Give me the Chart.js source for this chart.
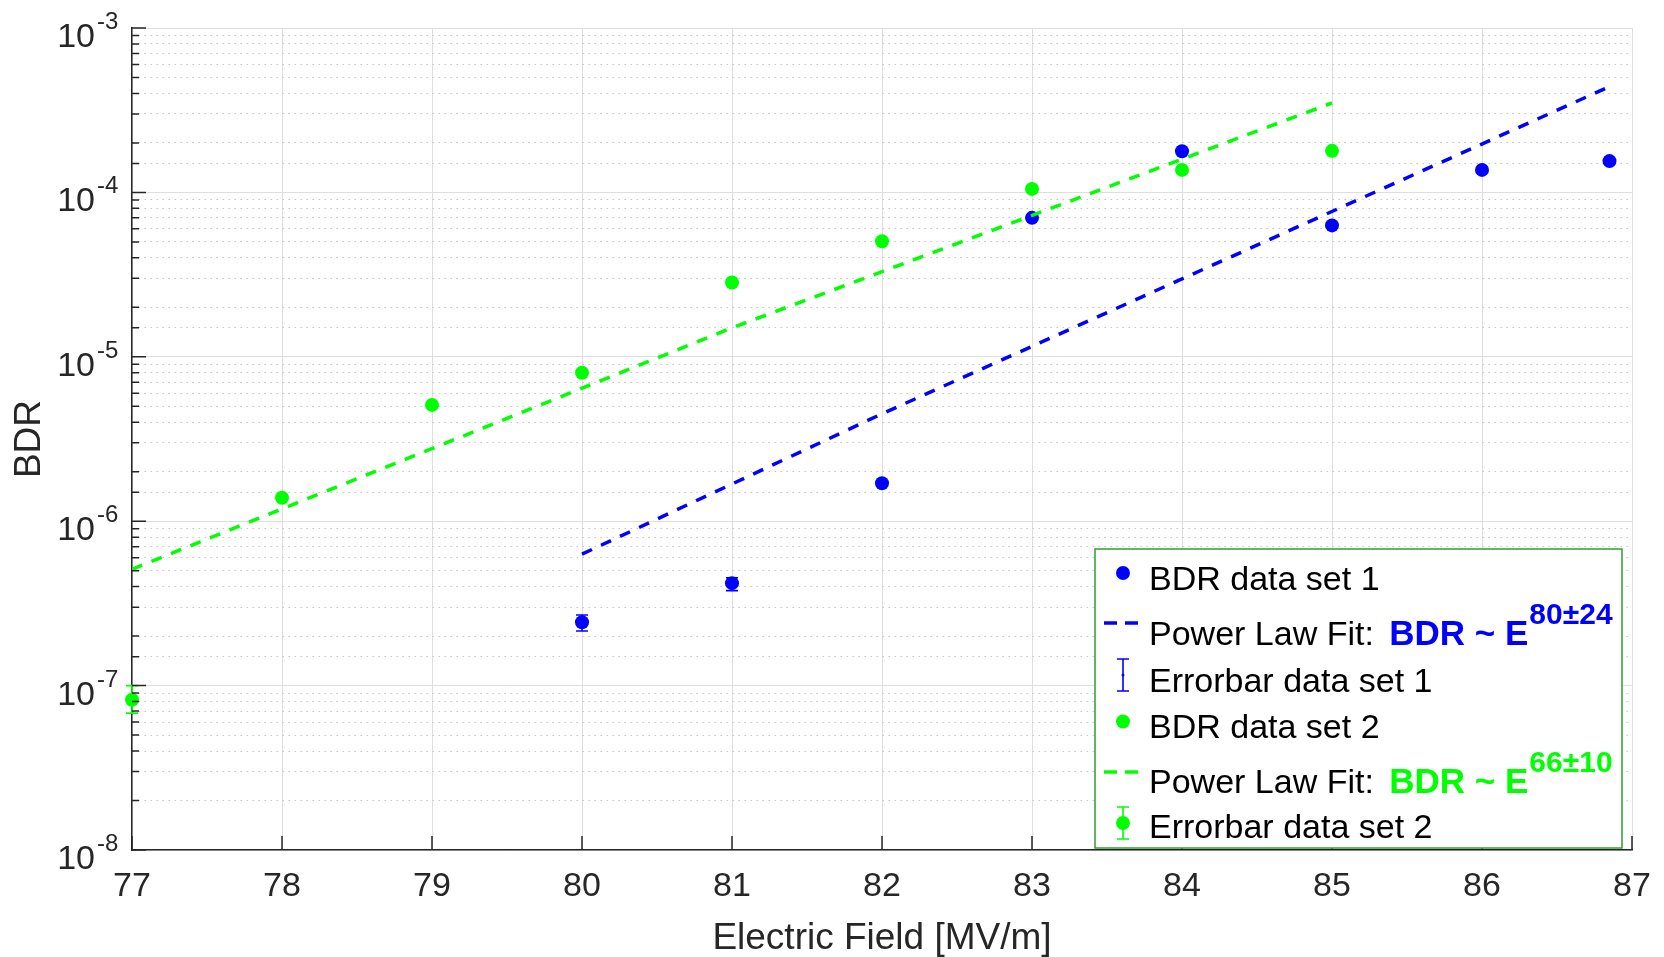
<!DOCTYPE html>
<html>
<head>
<meta charset="utf-8">
<script src="https://cdn.jsdelivr.net/npm/chart.js@4.4.1/dist/chart.umd.min.js"></script>
<style>
    html, body { margin: 0; padding: 0; background: #ffffff; }
    #wrap { width: 1664px; height: 957px; }
</style>
</head>
<body>
<div id="wrap"><canvas id="bdrChart" width="1664" height="957"></canvas></div>
<script>
// --- data ---
const fieldTicks = [77, 78, 79, 80, 81, 82, 83, 84, 85, 86, 87];
const bdrDecades = [-8, -7, -6, -5, -4, -3];

const set1Field = [80, 81, 82, 83, 84, 85, 86, 86.85];
const set1BDR = [2.43e-7, 4.2e-7, 1.7e-6, 7.0e-5, 1.78e-4, 6.3e-5, 1.37e-4, 1.55e-4];
const set1ErrLow = [2.15e-7, 3.78e-7, null, null, null, null, null, null];
const set1ErrHigh = [2.69e-7, 4.53e-7, null, null, null, null, null, null];

const set2Field = [77, 78, 79, 80, 81, 82, 83, 84, 85];
const set2BDR = [8.2e-8, 1.39e-6, 5.1e-6, 8.0e-6, 2.83e-5, 5.05e-5, 1.05e-4, 1.37e-4, 1.79e-4];
const set2ErrLow = [6.8e-8, null, null, null, null, null, null, null, null];
const set2ErrHigh = [1.0e-7, null, null, null, null, null, null, null, null];

const fit1Field = [80, 82, 86.85];
const fit1BDR = [6.3e-7, 4.5e-6, 4.4e-4];
const fit2Field = [77, 81, 85];
const fit2BDR = [5.1e-7, 1.5e-5, 3.5e-4];

const BLUE = '#0000ff';
const GREEN = '#00ff00';
const AXIS = '#262626';
const FONT = '"Liberation Sans", Arial, Helvetica, sans-serif';

function toPoints(xs, ys) {
    return xs.map((x, i) => ({ x: x, y: ys[i] }));
}

function isDecade(v) {
    const l = Math.log10(v);
    return Math.abs(l - Math.round(l)) < 1e-6;
}

// error bars for the point series
const errorBarPlugin = {
    id: 'errorBars',
    afterDatasetsDraw(chart) {
        const c = chart.ctx;
        const xs = chart.scales.x, ys = chart.scales.y;
        chart.data.datasets.forEach(ds => {
            if (!ds.errLow) return;
            c.save();
            c.strokeStyle = ds.backgroundColor;
            c.lineWidth = 1.6;
            ds.data.forEach((p, i) => {
                if (ds.errLow[i] == null) return;
                const px = xs.getPixelForValue(p.x);
                const top = ys.getPixelForValue(ds.errHigh[i]);
                const bot = ys.getPixelForValue(ds.errLow[i]);
                c.beginPath();
                c.moveTo(px, top); c.lineTo(px, bot);
                c.moveTo(px - 6, top); c.lineTo(px + 6, top);
                c.moveTo(px - 6, bot); c.lineTo(px + 6, bot);
                c.stroke();
            });
            c.restore();
        });
    }
};

// MATLAB style inward ticks and 10^n labels
const axesPlugin = {
    id: 'matlabAxes',
    afterDraw(chart) {
        const c = chart.ctx;
        const area = chart.chartArea;
        const ys = chart.scales.y, xs = chart.scales.x;
        c.save();
        c.strokeStyle = AXIS;
        c.lineWidth = 1.5;
        c.beginPath();
        ys.ticks.forEach(t => {
            const py = ys.getPixelForValue(t.value);
            const len = isDecade(t.value) ? 14 : 7;
            c.moveTo(area.left, py); c.lineTo(area.left + len, py);
        });
        fieldTicks.forEach(v => {
            const px = xs.getPixelForValue(v);
            c.moveTo(px, area.bottom); c.lineTo(px, area.bottom - 14);
        });
        c.stroke();

        c.fillStyle = AXIS;
        bdrDecades.forEach(d => {
            const py = ys.getPixelForValue(Math.pow(10, d));
            c.textAlign = 'right';
            c.textBaseline = 'alphabetic';
            c.font = '34px ' + FONT;
            c.fillText('10', area.left - 37, py + 19);
            c.textAlign = 'left';
            c.font = '24px ' + FONT;
            c.fillText('-' + Math.abs(d), area.left - 35, py + 1);
        });
        c.restore();
    }
};

// legend box in the lower right corner
const legendPlugin = {
    id: 'matlabLegend',
    afterDraw(chart) {
        const c = chart.ctx;
        const area = chart.chartArea;
        const bw = 527, bh = 299;
        const bx = area.right - 10 - bw;
        const by = area.bottom - 2 - bh;
        const iconX = bx + 28;
        const textX = bx + 54;

        c.save();
        c.fillStyle = '#ffffff';
        c.fillRect(bx, by, bw, bh);
        c.strokeStyle = '#2f9f2f';
        c.lineWidth = 1.5;
        c.strokeRect(bx, by, bw, bh);

        function dot(y, color) {
            c.fillStyle = color;
            c.beginPath();
            c.arc(iconX, y, 7, 0, Math.PI * 2);
            c.fill();
        }
        function dashSample(y, color) {
            c.strokeStyle = color;
            c.lineWidth = 3.5;
            c.beginPath();
            c.moveTo(iconX - 19, y); c.lineTo(iconX - 6, y);
            c.moveTo(iconX + 2, y); c.lineTo(iconX + 15, y);
            c.stroke();
        }
        function errSample(y, color, big) {
            c.strokeStyle = color;
            c.lineWidth = 1.6;
            c.beginPath();
            c.moveTo(iconX, y - 16); c.lineTo(iconX, y + 16);
            c.moveTo(iconX - 6, y - 16); c.lineTo(iconX + 6, y - 16);
            c.moveTo(iconX - 6, y + 16); c.lineTo(iconX + 6, y + 16);
            c.stroke();
            c.fillStyle = color;
            c.beginPath();
            c.arc(iconX, y, big ? 7 : 1.5, 0, Math.PI * 2);
            c.fill();
        }
        function plain(text, base) {
            c.fillStyle = '#000000';
            c.font = '34px ' + FONT;
            c.textAlign = 'left';
            c.textBaseline = 'alphabetic';
            c.fillText(text, textX, base);
        }
        function fitText(base, color, exp) {
            plain('Power Law Fit: ', base);
            let x = textX + c.measureText('Power Law Fit: ').width + 6;
            c.fillStyle = color;
            c.font = 'bold 35px ' + FONT;
            c.fillText('BDR ~ E', x, base);
            x += c.measureText('BDR ~ E').width + 1;
            c.font = 'bold 30px ' + FONT;
            c.fillText(exp, x, base - 21);
        }

        const rows = [41, 96, 143, 188.5, 244, 289].map(o => by + o);
        dot(rows[0] - 17, BLUE);
        plain('BDR data set 1', rows[0]);
        dashSample(rows[1] - 22, BLUE);
        fitText(rows[1], BLUE, '80\u00b124');
        errSample(rows[2] - 17, BLUE, false);
        plain('Errorbar data set 1', rows[2]);
        dot(rows[3] - 16, GREEN);
        plain('BDR data set 2', rows[3]);
        dashSample(rows[4] - 21, GREEN);
        fitText(rows[4], GREEN, '66\u00b110');
        errSample(rows[5] - 15, GREEN, true);
        plain('Errorbar data set 2', rows[5]);
        c.restore();
    }
};

const ctx = document.getElementById('bdrChart');

new Chart(ctx, {
    type: 'scatter',
    data: {
        datasets: [
            {
                label: 'Power Law Fit 1',
                data: toPoints(fit1Field, fit1BDR),
                showLine: true,
                borderColor: BLUE,
                borderWidth: 3.5,
                borderDash: [11, 10],
                pointRadius: 0,
                fill: false
            },
            {
                label: 'Power Law Fit 2',
                data: toPoints(fit2Field, fit2BDR),
                showLine: true,
                borderColor: GREEN,
                borderWidth: 3.5,
                borderDash: [11, 10],
                pointRadius: 0,
                fill: false
            },
            {
                label: 'BDR data set 1',
                data: toPoints(set1Field, set1BDR),
                backgroundColor: BLUE,
                borderWidth: 0,
                pointRadius: 7,
                errLow: set1ErrLow,
                errHigh: set1ErrHigh,
                clip: false
            },
            {
                label: 'BDR data set 2',
                data: toPoints(set2Field, set2BDR),
                backgroundColor: GREEN,
                borderWidth: 0,
                pointRadius: 7,
                errLow: set2ErrLow,
                errHigh: set2ErrHigh,
                clip: false
            }
        ]
    },
    options: {
        responsive: false,
        animation: false,
        devicePixelRatio: 1,
        layout: { padding: { left: 0, top: 28, right: 32, bottom: 0 } },
        plugins: {
            legend: { display: false },
            tooltip: { enabled: false }
        },
        scales: {
            x: {
                type: 'linear',
                min: 77,
                max: 87,
                afterFit: s => {
                    s.height = 107;
                    s.paddingLeft = 0;
                    s.paddingRight = 0;
                },
                ticks: {
                    stepSize: 1,
                    color: AXIS,
                    padding: 16,
                    font: { family: FONT, size: 34 }
                },
                grid: { color: '#dedede', lineWidth: 1, drawTicks: false },
                border: { color: AXIS, width: 1.5 },
                title: {
                    display: true,
                    text: 'Electric Field [MV/m]',
                    color: AXIS,
                    font: { family: FONT, size: 37, lineHeight: 1 },
                    padding: { top: 0, bottom: 0 }
                }
            },
            y: {
                type: 'logarithmic',
                min: 1e-8,
                max: 1e-3,
                afterFit: s => { s.width = 132; },
                ticks: { display: false },
                grid: {
                    color: c => (c.tick && !isDecade(c.tick.value)) ? '#c6c6c6' : '#dedede',
                    lineWidth: 1,
                    drawTicks: false
                },
                border: {
                    color: AXIS,
                    width: 1.5,
                    dash: c => (c.tick && !isDecade(c.tick.value)) ? [1.5, 4.5] : []
                },
                title: {
                    display: true,
                    text: 'BDR',
                    color: AXIS,
                    font: { family: FONT, size: 37, lineHeight: 1 },
                    padding: { top: 11, bottom: 0 }
                }
            }
        }
    },
    plugins: [errorBarPlugin, axesPlugin, legendPlugin]
});
</script>
</body>
</html>
